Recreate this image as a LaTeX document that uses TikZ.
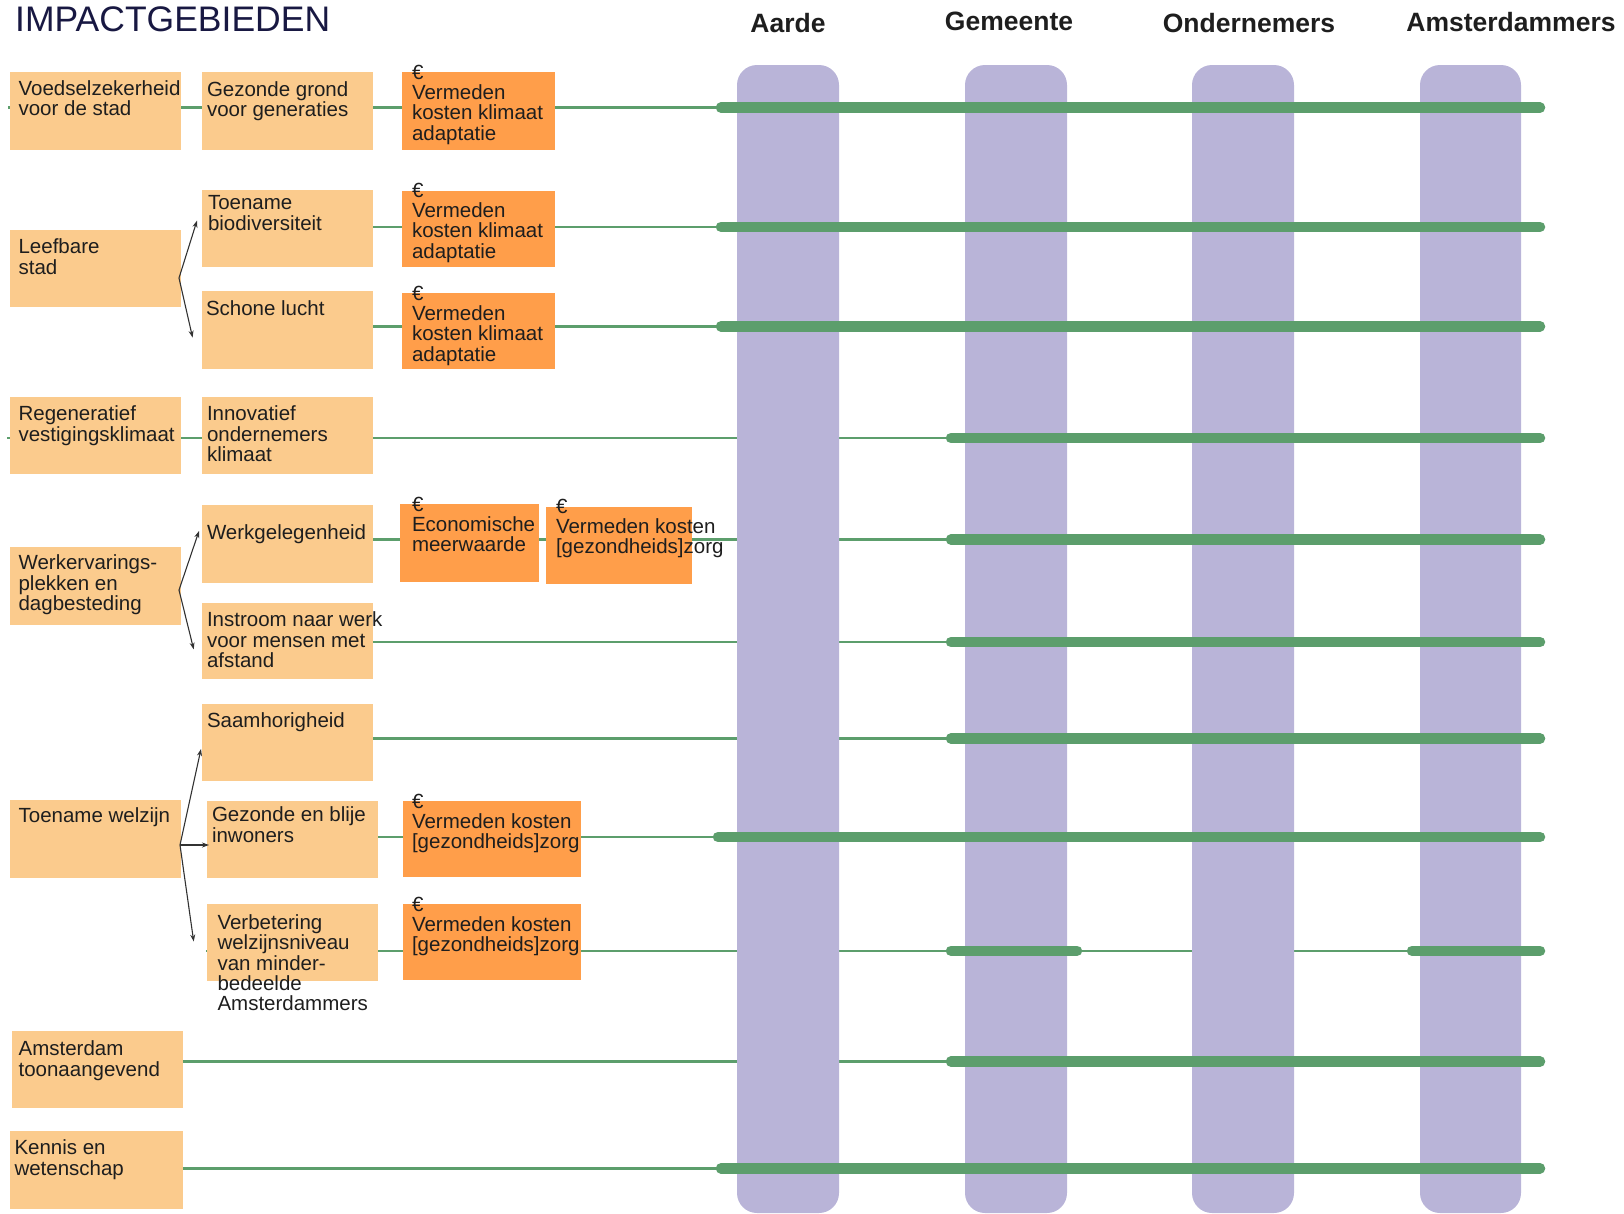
\documentclass[tikz,border=0pt]{standalone}
\usepackage{fontspec}
\setmainfont{Liberation Sans}
\usetikzlibrary{arrows.meta}
\pgfdeclarelayer{bg}
\pgfsetlayers{bg,main}
\definecolor{lor}{RGB}{251,203,141}
\definecolor{dor}{RGB}{255,158,74}
\definecolor{pur}{RGB}{185,180,216}
\definecolor{grn}{RGB}{92,158,108}
\definecolor{navy}{RGB}{24,24,66}
\definecolor{txtc}{RGB}{30,30,30}
\definecolor{arrc}{RGB}{50,50,50}
\tikzset{
  lbox/.style={fill=lor, inner sep=0pt, outer sep=0pt, anchor=north west},
  dbox/.style={fill=dor, inner sep=0pt, outer sep=0pt, anchor=north west},
  txt/.style={anchor=north west, inner sep=0pt, outer sep=0pt, align=left, text=txtc,
    font=\fontsize{20.5}{20.3}\selectfont},
  hdr/.style={anchor=base, inner sep=0pt, text=txtc, font=\fontsize{26.5}{30}\selectfont\bfseries},
  thinln/.style={draw=grn, line width=2.6pt},
  thickln/.style={draw=grn, line width=10.5pt, line cap=round},
  bar/.style={fill=pur, rounded corners=20pt},
  arr/.style={draw=arrc, line width=1.1pt, -{Stealth[length=7pt,width=5pt]}},
}
\newcommand\gzorg{{[}gezondheids{]}zorg}
\begin{document}
\begin{tikzpicture}[x=1pt,y=-1pt]
\useasboundingbox (0,0) rectangle (1624,1213);
% title and headers
\node[anchor=base west, inner sep=0pt, text=navy, font=\fontsize{35.5}{40}\selectfont] (title) at (15,31) {IMPACTGEBIEDEN};
\node[hdr] (hAarde) at (788,32) {Aarde};
\node[hdr] (hGem) at (1009,30) {Gemeente};
\node[hdr] (hOnd) at (1249,32) {Ondernemers};
\node[hdr] (hAms) at (1511,31) {Amsterdammers};
% bars
\path[bar] (737,65) rectangle (839,1213);
\path[bar] (965,65) rectangle (1067,1213);
\path[bar] (1192,65) rectangle (1294,1213);
\path[bar] (1420,65) rectangle (1521,1213);
% boxes row 1
\node[lbox, minimum width=171pt, minimum height=78pt] (A1) at (10,72) {};
\node[txt] (A1t) at (18.6,80.8) {Voedselzekerheid\\voor de stad};
\node[lbox, minimum width=171pt, minimum height=78pt] (B1) at (202,72) {};
\node[txt] (B1t) at (207,81.8) {Gezonde grond\\voor generaties};
\node[dbox, minimum width=153pt, minimum height=78pt] (C1) at (402,72) {};
\node[txt] (C1t) at (412,65) {€\\Vermeden\\kosten klimaat\\adaptatie};
% row 2/3
\node[lbox, minimum width=171pt, minimum height=77pt] (A2) at (10,230) {};
\node[txt] (A2t) at (18.6,239) {Leefbare\\stad};
\node[lbox, minimum width=171pt, minimum height=77pt] (B2) at (202,190) {};
\node[txt] (B2t) at (208,195.7) {Toename\\biodiversiteit};
\node[dbox, minimum width=153pt, minimum height=76pt] (C2) at (402,191) {};
\node[txt] (C2t) at (412,183) {€\\Vermeden\\kosten klimaat\\adaptatie};
\node[lbox, minimum width=171pt, minimum height=78pt] (B3) at (202,291) {};
\node[txt] (B3t) at (206,301) {Schone lucht};
\node[dbox, minimum width=153pt, minimum height=76pt] (C3) at (402,293) {};
\node[txt] (C3t) at (412,286) {€\\Vermeden\\kosten klimaat\\adaptatie};
% row 4
\node[lbox, minimum width=171pt, minimum height=77pt] (A4) at (10,397) {};
\node[txt] (A4t) at (18.6,406) {Regeneratief\\vestigingsklimaat};
\node[lbox, minimum width=171pt, minimum height=77pt] (B4) at (202,397) {};
\node[txt] (B4t) at (207,406) {Innovatief\\ondernemers\\klimaat};
% row 5/6
\node[lbox, minimum width=171pt, minimum height=78pt] (A5) at (10,547) {};
\node[txt] (A5t) at (18.6,555) {Werkervarings-\\plekken en\\dagbesteding};
\node[lbox, minimum width=171pt, minimum height=78pt] (B5) at (202,505) {};
\node[txt] (B5t) at (207,525) {Werkgelegenheid};
\node[dbox, minimum width=139pt, minimum height=78pt] (C5a) at (400,504) {};
\node[txt] (C5at) at (412,497) {€\\Economische\\meerwaarde};
\node[dbox, minimum width=146pt, minimum height=77pt] (C5b) at (546,507) {};
\node[txt] (C5bt) at (556,499) {€\\Vermeden kosten\\\gzorg};
\node[lbox, minimum width=171pt, minimum height=76pt] (B6) at (202,603) {};
\node[txt] (B6t) at (207,612) {Instroom naar werk\\voor mensen met\\afstand};
% row 7/8/9
\node[lbox, minimum width=171pt, minimum height=77pt] (B7) at (202,704) {};
\node[txt] (B7t) at (207,712.5) {Saamhorigheid};
\node[lbox, minimum width=171pt, minimum height=78pt] (A8) at (10,800) {};
\node[txt] (A8t) at (18.6,808) {Toename welzijn};
\node[lbox, minimum width=171pt, minimum height=77pt] (B8) at (207,801) {};
\node[txt] (B8t) at (212,807) {Gezonde en blije\\inwoners};
\node[dbox, minimum width=178pt, minimum height=76pt] (C8) at (403,801) {};
\node[txt] (C8t) at (412,794) {€\\Vermeden kosten\\\gzorg};
\node[lbox, minimum width=171pt, minimum height=77pt] (B9) at (207,904) {};
\node[txt] (B9t) at (217.5,914.6) {Verbetering\\welzijnsniveau\\van minder-\\bedeelde\\Amsterdammers};
\node[dbox, minimum width=178pt, minimum height=76pt] (C9) at (403,904) {};
\node[txt] (C9t) at (412,897) {€\\Vermeden kosten\\\gzorg};
% row 10/11
\node[lbox, minimum width=171pt, minimum height=77pt] (A10) at (12,1031) {};
\node[txt] (A10t) at (18.6,1041) {Amsterdam\\toonaangevend};
\node[lbox, minimum width=173pt, minimum height=78pt] (A11) at (10,1131) {};
\node[txt] (A11t) at (14.5,1140) {Kennis en\\wetenschap};
% arrows
\coordinate (o2) at (179,278);
\coordinate (o5) at (179,590);
\coordinate (o8) at (180,845);
\draw[arr] (o2) -- (197,220.6);
\draw[arr] (o2) -- (192.6,337.6);
\draw[arr] (o5) -- (199,531);
\draw[arr] (o5) -- (193.7,649.4);
\draw[arr] (o8) -- (201,749);
\draw[arr] (o8) -- (209,845);
\draw[arr] (o8) -- (193.7,941.5);
% row coordinates
\coordinate (r1a) at (721,107.7);   \coordinate (r1b) at (1540,107.7);
\coordinate (r2a) at (721,226.8);   \coordinate (r2b) at (1540,226.8);
\coordinate (r3a) at (721,326.3);   \coordinate (r3b) at (1540,326.3);
\coordinate (r4a) at (951,438);     \coordinate (r4b) at (1540,438);
\coordinate (r5a) at (951,539.6);   \coordinate (r5b) at (1540,539.6);
\coordinate (r6a) at (951,642);     \coordinate (r6b) at (1540,642);
\coordinate (r7a) at (951,738.5);   \coordinate (r7b) at (1540,738.5);
\coordinate (r8a) at (718,837);     \coordinate (r8b) at (1540,837);
\coordinate (r9a) at (951,950.8);   \coordinate (r9b) at (1077,950.8);
\coordinate (r9c) at (1412,950.8);  \coordinate (r9d) at (1540,950.8);
\coordinate (r10a) at (951,1061.6); \coordinate (r10b) at (1540,1061.6);
\coordinate (r11a) at (721,1168.3); \coordinate (r11b) at (1540,1168.3);
\coordinate (r1s) at (8,107.7);
\coordinate (r4s) at (7,438);
% thin lines behind
\begin{pgfonlayer}{bg}
\draw[thinln] (r1s) -- (r1a);
\draw[thinln] (B2.center |- r2a) -- (r2a);
\draw[thinln] (B3.center |- r3a) -- (r3a);
\draw[thinln] (r4s) -- (r4a);
\draw[thinln] (B5.center |- r5a) -- (r5a);
\draw[thinln] (B6.center |- r6a) -- (r6a);
\draw[thinln] (B7.center |- r7a) -- (r7a);
\draw[thinln] (B8.center |- r8a) -- (r8a);
\draw[thinln] ([xshift=-1pt]B9.west |- r9a) -- (r9d);
\draw[thinln] (A10.center |- r10a) -- (r10a);
\draw[thinln] (A11.center |- r11a) -- (r11a);
\end{pgfonlayer}
% thick lines on top
\draw[thickln] (r1a) -- (r1b);
\draw[thickln] (r2a) -- (r2b);
\draw[thickln] (r3a) -- (r3b);
\draw[thickln] (r4a) -- (r4b);
\draw[thickln] (r5a) -- (r5b);
\draw[thickln] (r6a) -- (r6b);
\draw[thickln] (r7a) -- (r7b);
\draw[thickln] (r8a) -- (r8b);
\draw[thickln] (r9a) -- (r9b);
\draw[thickln] (r9c) -- (r9d);
\draw[thickln] (r10a) -- (r10b);
\draw[thickln] (r11a) -- (r11b);
\end{tikzpicture}
\end{document}
